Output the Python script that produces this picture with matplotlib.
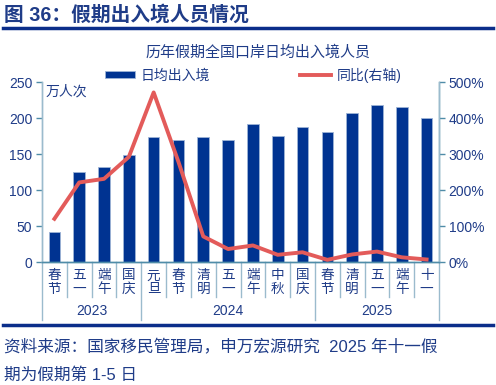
import matplotlib
matplotlib.use('Agg')
import matplotlib.pyplot as plt
from matplotlib.transforms import blended_transform_factory
from matplotlib.lines import Line2D

plt.rcParams['font.family'] = ['Liberation Sans', 'Noto Sans CJK SC', 'DejaVu Sans']

# data
categories = ['春节', '五一', '端午', '国庆',
              '元旦', '春节', '清明', '五一', '端午', '中秋', '国庆',
              '春节', '清明', '五一', '端午', '十一']
years = ['2023', '2024', '2025']
year_sizes = [4, 7, 5]
daily_flow = [42, 125, 132, 148, 173, 169, 174, 170, 192, 175, 187, 180, 207, 218, 215, 200]
yoy_pct = [120, 221, 231, 292, 471, 278, 71, 36, 46, 20, 27, 6, 21, 29, 13, 7]

TXT = '#1F3C88'
NAVY = '#003391'
RED = '#E35B5A'
AXC = '#4F8CA8'
SEP = '#9BBBCD'

fig = plt.figure(figsize=(4.96, 3.85), dpi=100)
ax = fig.add_axes([42 / 496, 1 - 262 / 385, 397 / 496, 180 / 385])
ax2 = ax.twinx()

x = list(range(len(categories)))
bars = ax.bar(x, daily_flow, width=0.47, color=NAVY, edgecolor='#9DB4D6', linewidth=0.6, zorder=2)
line, = ax2.plot(x, yoy_pct, color=RED, linewidth=2.8, zorder=3)

ax.set_xlim(-0.5, len(categories) - 0.5)
ax.set_ylim(0, 250)
ax.set_yticks(range(0, 251, 50))
ax2.set_ylim(0, 500)
ax2.set_yticks(range(0, 501, 100))
ax2.set_yticklabels(['%d%%' % v for v in range(0, 501, 100)])

for a in (ax, ax2):
    a.spines['top'].set_visible(False)
    for s in ('left', 'right', 'bottom'):
        a.spines[s].set_color(AXC)
        a.spines[s].set_linewidth(1.0)
    a.tick_params(axis='y', colors=AXC, labelcolor=TXT, labelsize=10, length=4, width=1.0, pad=3)
ax.set_xticks([])
ax2.set_xticks([])
ax.spines['left'].set_color(SEP)
ax2.spines['left'].set_color(SEP)
ax2.spines['right'].set_color(SEP)

# category labels, stacked characters
trans = blended_transform_factory(ax.transData, ax.transAxes)
for i, c in enumerate(categories):
    ax.text(i, -0.035, '\n'.join(c), transform=trans, ha='center', va='top',
            fontsize=9.8, color=TXT, linespacing=1.0)

# separators
px = 1 / 180
edges = [i - 0.5 for i in range(len(categories) + 1)]
group_edges = [-0.5]
for n in year_sizes:
    group_edges.append(group_edges[-1] + n)
for e in edges:
    bottom = -58 * px if e in group_edges else -35 * px
    ax.plot([e, e], [0, bottom], transform=trans, color=SEP, linewidth=1.0, clip_on=False)

start = -0.5
for yr, n in zip(years, year_sizes):
    ax.text(start + n / 2, -49 * px, yr, transform=trans, ha='center', va='center',
            fontsize=10, color=TXT)
    start += n

ax.text(0.008, 0.985, '万人次', transform=ax.transAxes, ha='left', va='top', fontsize=10, color=TXT)

# titles
fig.text(4 / 496, 1 - 15 / 385, '图 36：假期出入境人员情况', ha='left', va='center',
         fontsize=14.2, fontweight='bold', color=TXT)
fig.add_artist(Line2D([3 / 496, 493 / 496], [1 - 28 / 385] * 2, color='#0B2E8A', linewidth=2.5))
fig.text(258 / 496, 1 - 52 / 385, '历年假期全国口岸日均出入境人员', ha='center', va='center',
         fontsize=10.8, color=TXT)

fig.legend([bars, line], ['日均出入境', '同比(右轴)'], loc='center',
           bbox_to_anchor=(253 / 496, 1 - 75 / 385), ncol=2, frameon=False,
           fontsize=10, columnspacing=6.5, handlelength=2.2, handleheight=0.45,
           handletextpad=0.4, labelcolor=TXT)

fig.add_artist(Line2D([3 / 496, 493 / 496], [1 - 325 / 385] * 2, color='#0B2E8A', linewidth=2.5))
fig.text(4 / 496, 1 - 347 / 385, '资料来源：国家移民管理局，申万宏源研究  2025 年十一假', ha='left',
         va='center', fontsize=12, color=TXT)
fig.text(4 / 496, 1 - 375 / 385, '期为假期第 1-5 日', ha='left', va='center', fontsize=12, color=TXT)

fig.savefig('out.png', dpi=100)
